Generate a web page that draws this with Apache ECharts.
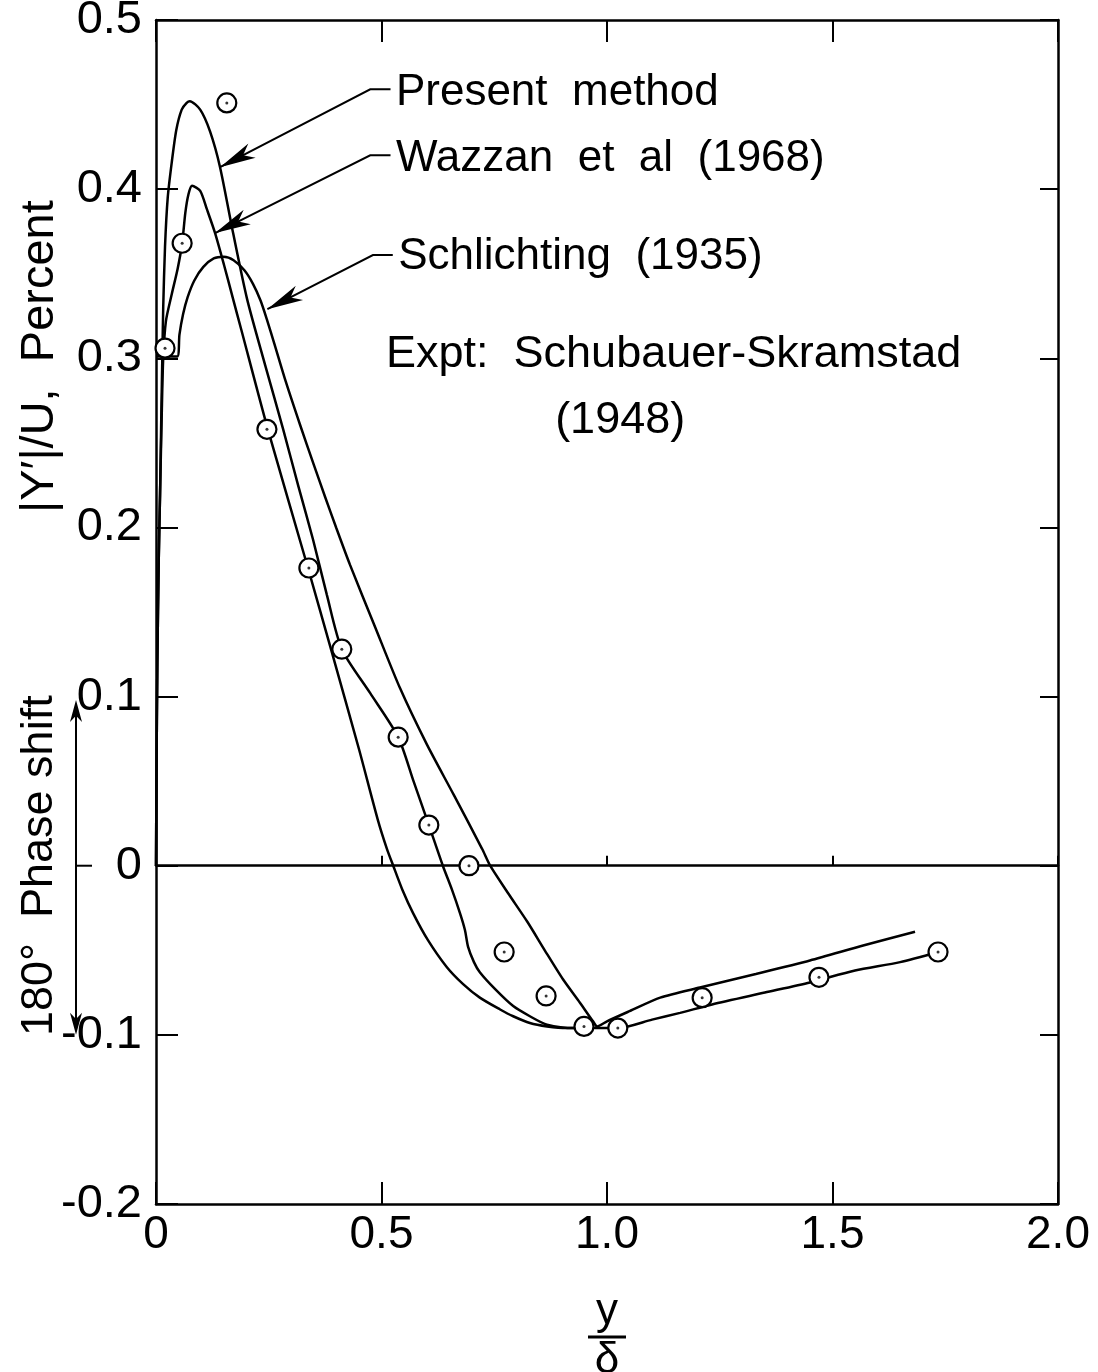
<!DOCTYPE html>
<html>
<head>
<meta charset="utf-8">
<script src="https://cdn.jsdelivr.net/npm/echarts@6/dist/echarts.min.js"></script>
<style>
  html, body { margin: 0; padding: 0; background: #fff; }
  #chart { width: 1098px; height: 1372px; }
</style>
</head>
<body>
<div id="chart"></div>
<script>
// x: y/delta, y: |Y'|/U in percent (negative side = 180 deg phase shift)
var xTicks = [0, 0.5, 1.0, 1.5, 2.0];
var yTicks = [-0.2, -0.1, 0, 0.1, 0.2, 0.3, 0.4, 0.5];

var presentMethod = [
  [0, 0], [0.001, 0.05], [0.003, 0.12], [0.006, 0.18], [0.009, 0.22], [0.012, 0.27],
  [0.014, 0.3], [0.016, 0.33], [0.02, 0.366], [0.026, 0.395], [0.035, 0.416],
  [0.045, 0.435], [0.057, 0.447], [0.068, 0.451], [0.075, 0.452], [0.098, 0.447],
  [0.12, 0.434], [0.142, 0.413], [0.171, 0.374], [0.202, 0.335], [0.242, 0.296],
  [0.282, 0.258], [0.315, 0.225], [0.348, 0.193], [0.379, 0.16], [0.412, 0.128],
  [0.475, 0.102], [0.537, 0.076], [0.571, 0.05], [0.605, 0.024], [0.636, 0.0],
  [0.656, -0.014], [0.674, -0.028], [0.685, -0.038], [0.692, -0.048], [0.705, -0.057],
  [0.718, -0.063], [0.752, -0.073], [0.792, -0.083], [0.829, -0.089], [0.867, -0.094],
  [0.929, -0.096], [0.975, -0.096], [1.024, -0.096], [1.1, -0.091], [1.162, -0.087],
  [1.233, -0.082], [1.35, -0.075], [1.45, -0.069], [1.55, -0.062], [1.65, -0.057],
  [1.734, -0.051]
];

var wazzan = [
  [0, 0], [0.001, 0.05], [0.003, 0.12], [0.006, 0.18], [0.009, 0.22], [0.013, 0.27],
  [0.016, 0.3], [0.022, 0.322], [0.035, 0.338], [0.048, 0.353], [0.058, 0.368],
  [0.065, 0.386], [0.072, 0.397], [0.08, 0.402], [0.098, 0.399], [0.113, 0.388],
  [0.131, 0.374], [0.151, 0.355], [0.171, 0.335], [0.189, 0.317], [0.248, 0.258],
  [0.337, 0.176], [0.388, 0.128], [0.45, 0.069], [0.492, 0.027], [0.512, 0.01],
  [0.526, 0.0], [0.546, -0.014], [0.57, -0.028], [0.603, -0.044], [0.645, -0.06],
  [0.681, -0.07], [0.718, -0.078], [0.763, -0.085], [0.792, -0.089], [0.829, -0.093],
  [0.867, -0.095], [0.911, -0.096], [0.929, -0.096]
];

var schlichting = [
  [0, 0.301], [0.047, 0.301], [0.052, 0.314], [0.06, 0.326], [0.07, 0.336],
  [0.085, 0.346], [0.105, 0.354], [0.128, 0.359], [0.15, 0.36], [0.172, 0.358],
  [0.196, 0.352], [0.215, 0.344], [0.232, 0.334], [0.247, 0.322], [0.262, 0.309],
  [0.288, 0.286], [0.319, 0.261], [0.35, 0.237], [0.375, 0.218], [0.4, 0.1995],
  [0.43, 0.178], [0.486, 0.141], [0.541, 0.105], [0.6, 0.072], [0.66, 0.042],
  [0.723, 0.01], [0.741, 0.0], [0.78, -0.016], [0.823, -0.033], [0.862, -0.05],
  [0.902, -0.067], [0.94, -0.081], [0.969, -0.092], [0.978, -0.095], [1.0, -0.092],
  [1.05, -0.086], [1.118, -0.078], [1.206, -0.072], [1.33, -0.064], [1.45, -0.056],
  [1.57, -0.047], [1.683, -0.039]
];

var expt = [
  [0.02, 0.306], [0.058, 0.368], [0.157, 0.451], [0.246, 0.258], [0.339, 0.176],
  [0.412, 0.128], [0.537, 0.076], [0.605, 0.024], [0.694, 0.0], [0.772, -0.051],
  [0.865, -0.077], [0.949, -0.095], [1.024, -0.096], [1.211, -0.078], [1.47, -0.066],
  [1.734, -0.051]
];

var FONT = 'Liberation Sans';
var BLACK = '#000';

var chart = echarts.init(document.getElementById('chart'));

function lineSeries(name, data) {
  return {
    name: name, type: 'line', data: data, symbol: 'none', smooth: 0.25,
    lineStyle: { color: BLACK, width: 2.5 }, z: 3, silent: true, animation: false
  };
}

var xMin = xTicks[0], xMax = xTicks[xTicks.length - 1];
var yMin = yTicks[0], yMax = yTicks[yTicks.length - 1];

function xAxisCfg(pos, onZero, tickLen, showLabel) {
  return {
    type: 'value', position: pos, min: xMin, max: xMax, interval: 0.5,
    splitLine: { show: false },
    axisLine: { show: true, onZero: onZero, lineStyle: { color: BLACK, width: 2.5 } },
    axisTick: { show: true, inside: true, length: tickLen, lineStyle: { color: BLACK, width: 2 } },
    axisLabel: {
      show: showLabel, margin: 8, color: BLACK, fontFamily: FONT, fontSize: 46,
      formatter: function (v) { return v === 0 ? '0' : v.toFixed(1); }
    }
  };
}

function yAxisCfg(pos, tickLen, showLabel) {
  return {
    type: 'value', position: pos, min: yMin, max: yMax, interval: 0.1,
    splitLine: { show: false },
    axisLine: { show: true, onZero: false, lineStyle: { color: BLACK, width: 2.5 } },
    axisTick: { show: true, inside: true, length: tickLen, lineStyle: { color: BLACK, width: 2 } },
    axisLabel: {
      show: showLabel, margin: 14, color: BLACK, fontFamily: FONT, fontSize: 47,
      formatter: function (v) {
        var r = Math.round(v * 10) / 10;
        return r === 0 ? '0' : r.toFixed(1);
      }
    }
  };
}

var option = {
  backgroundColor: '#fff',
  animation: false,
  grid: { left: 156, right: 40, top: 20, bottom: 168, containLabel: false, outerBoundsMode: 'none' },
  xAxis: [
    xAxisCfg('bottom', false, 22, true),
    xAxisCfg('bottom', true, 10, false),
    xAxisCfg('top', false, 22, false)
  ],
  yAxis: [
    yAxisCfg('left', 22, true),
    yAxisCfg('right', 18, false)
  ],
  series: [
    lineSeries('Present method', presentMethod),
    lineSeries('Wazzan et al (1968)', wazzan),
    lineSeries('Schlichting (1935)', schlichting),
    {
      name: 'Expt: Schubauer-Skramstad (1948)', type: 'scatter', data: expt,
      symbol: 'circle', symbolSize: 19, z: 5, silent: true,
      itemStyle: { color: '#fff', borderColor: BLACK, borderWidth: 2.2, opacity: 1 }
    },
    {
      name: 'expt centre', type: 'scatter', data: expt,
      symbol: 'circle', symbolSize: 3, z: 6, silent: true,
      itemStyle: { color: BLACK }
    }
  ]
};
chart.setOption(option);

// ---- annotations (leaders, labels, axis names) ----
function P(x, y) { return chart.convertToPixel({ xAxisIndex: 0, yAxisIndex: 0 }, [x, y]); }

function arrowHead(tip, from, len, half) {
  var dx = tip[0] - from[0], dy = tip[1] - from[1];
  var d = Math.sqrt(dx * dx + dy * dy);
  var ux = dx / d, uy = dy / d, nx = -uy, ny = ux;
  var bx = tip[0] - ux * len, by = tip[1] - uy * len;
  var mx = tip[0] - ux * len * 0.72, my = tip[1] - uy * len * 0.72;
  return [tip, [bx + nx * half, by + ny * half], [mx, my], [bx - nx * half, by - ny * half]];
}

function textEl(str, x, y, size, align, vAlign, rot) {
  return {
    type: 'text', x: x, y: y, rotation: rot || 0, z: 10, silent: true,
    style: {
      text: str, font: size + 'px "' + FONT + '"', fill: BLACK,
      textAlign: align, align: align, textVerticalAlign: vAlign, verticalAlign: vAlign
    }
  };
}

var labels = [
  { text: 'Present  method', at: [0.532, 0.457], path: [[0.52, 0.459], [0.475, 0.459], [0.142, 0.413]] },
  { text: 'Wazzan  et  al  (1968)', at: [0.532, 0.418], path: [[0.52, 0.42], [0.475, 0.42], [0.131, 0.374]] },
  { text: 'Schlichting  (1935)', at: [0.537, 0.36], path: [[0.525, 0.361], [0.481, 0.361], [0.247, 0.329]] }
];

var g = [];
labels.forEach(function (l) {
  var pts = l.path.map(function (p) { return P(p[0], p[1]); });
  var a = P(l.at[0], l.at[1]);
  g.push(textEl(l.text, a[0], a[1], 44, 'left', 'middle'));
  g.push({ type: 'polyline', z: 10, silent: true, shape: { points: pts },
           style: { stroke: BLACK, lineWidth: 2, fill: null } });
  var tip = pts[pts.length - 1], prev = pts[pts.length - 2];
  g.push({ type: 'polygon', z: 10, silent: true, shape: { points: arrowHead(tip, prev, 36, 8) },
           style: { fill: BLACK } });
});

var e1 = P(0.51, 0.302), e2 = P(0.885, 0.263);
g.push(textEl('Expt:  Schubauer-Skramstad', e1[0], e1[1], 45, 'left', 'middle'));
g.push(textEl('(1948)', e2[0], e2[1], 45, 'left', 'middle'));

// y axis names
var yn = P(0, 0.301), ph = P(0, 0);
g.push(textEl("|Y\u2032|/U,  Percent", 40, yn[1], 47, 'center', 'middle', Math.PI / 2));
g.push(textEl('180\u00b0  Phase shift', 40, ph[1], 45, 'center', 'middle', Math.PI / 2));
var aTop = P(0, 0.098)[1], aBot = P(0, -0.1)[1], ax = 76;
g.push({ type: 'line', z: 10, silent: true, shape: { x1: ax, y1: aTop + 14, x2: ax, y2: aBot - 14 },
         style: { stroke: BLACK, lineWidth: 2 } });
g.push({ type: 'polygon', z: 10, silent: true, shape: { points: arrowHead([ax, aTop], [ax, aTop + 30], 22, 6) }, style: { fill: BLACK } });
g.push({ type: 'polygon', z: 10, silent: true, shape: { points: arrowHead([ax, aBot], [ax, aBot - 30], 22, 6) }, style: { fill: BLACK } });
g.push({ type: 'line', z: 10, silent: true, shape: { x1: ax, y1: ph[1], x2: ax + 16, y2: ph[1] },
         style: { stroke: BLACK, lineWidth: 2 } });

// x axis name: y over delta
var xc = P(1.0, 0)[0];
g.push(textEl('y', xc, 1334, 44, 'center', 'bottom'));
g.push({ type: 'line', z: 10, silent: true, shape: { x1: xc - 19, y1: 1337, x2: xc + 19, y2: 1337 },
         style: { stroke: BLACK, lineWidth: 3 } });
g.push(textEl('\u03b4', xc, 1339, 44, 'center', 'top'));

chart.setOption({ graphic: g });
</script>
</body>
</html>
